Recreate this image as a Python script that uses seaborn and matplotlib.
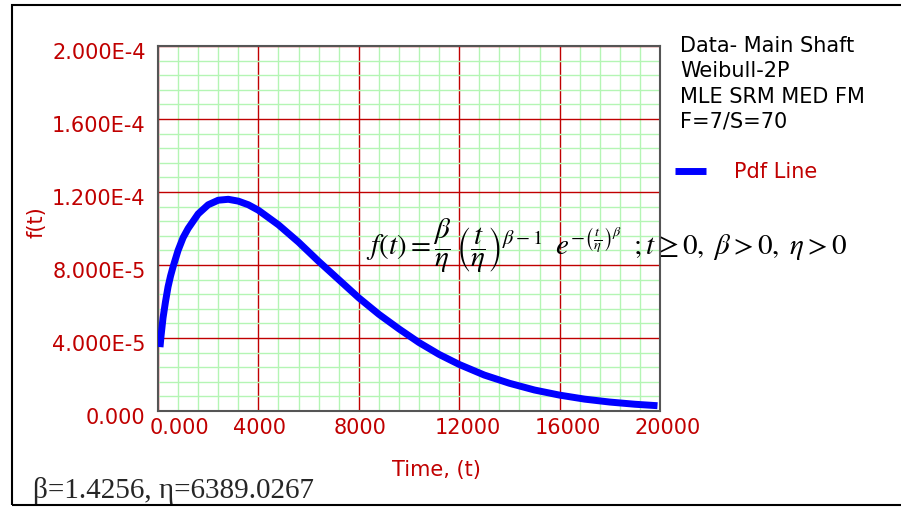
import numpy as np
import pandas as pd
import matplotlib
matplotlib.use("Agg")
import matplotlib.pyplot as plt
import matplotlib.transforms as mtransforms
from matplotlib.patches import Rectangle
from matplotlib.ticker import MultipleLocator
import seaborn as sns

# values
time_t = [80, 120, 200, 300, 400, 500, 600, 800, 1000, 1200, 1600, 2000, 2400, 2800,
          3200, 3600, 4000, 4800, 5600, 6400, 7200, 8000, 8800, 9600, 10400,
          11200, 12000, 13000, 14000, 15000, 16000, 17000, 18000, 19000, 19900]
pdf_ft = [3.5e-5, 4.1e-5, 5.1e-5, 6.0e-5, 6.8e-5, 7.4e-5, 7.9e-5, 8.8e-5, 9.5e-5, 1.00e-4,
          1.08e-4, 1.13e-4, 1.155e-4, 1.16e-4, 1.15e-4, 1.13e-4, 1.10e-4, 1.02e-4,
          9.25e-5, 8.2e-5, 7.2e-5, 6.2e-5, 5.3e-5, 4.5e-5, 3.75e-5, 3.1e-5,
          2.55e-5, 1.97e-5, 1.52e-5, 1.15e-5, 8.7e-6, 6.5e-6, 4.9e-6, 3.7e-6, 2.9e-6]

x_ticks = [0, 4000, 8000, 12000, 16000, 20000]
x_labels = ["0.000", "4000", "8000", "12000", "16000", "20000"]
y_ticks = [0, 4e-5, 8e-5, 1.2e-4, 1.6e-4, 2e-4]
y_labels = ["0.000", "4.000E-5", "8.000E-5", "1.200E-4", "1.600E-4", "2.000E-4"]
info_lines = ["Data- Main Shaft", "Weibull-2P", "MLE SRM MED FM", "F=7/S=70"]

RED = "#c00000"
W, H = 901, 508

sns.set_style("white")
plt.rcParams["font.family"] = ["DejaVu Sans"]
plt.rcParams["mathtext.fontset"] = "stix"

df = pd.DataFrame({"t": time_t, "f": pdf_ft})

fig = plt.figure(figsize=(W / 100, H / 100), dpi=100)
ax = fig.add_axes([158 / W, 1 - 411 / H, 502 / W, 365 / H])

sns.lineplot(data=df, x="t", y="f", ax=ax, color="#0000ff", lw=5,
             label="Pdf Line", zorder=5, solid_capstyle="butt",
             solid_joinstyle="round")

ax.set_xlim(0, 20000)
ax.set_ylim(0, 2e-4)
ax.xaxis.set_minor_locator(MultipleLocator(800))
ax.yaxis.set_minor_locator(MultipleLocator(8e-6))
ax.set_xticks(x_ticks)
ax.set_yticks(y_ticks)
ax.set_xticklabels(x_labels)
ax.set_yticklabels(y_labels)
ax.grid(which="minor", color="#b4f5b4", lw=1)
ax.grid(which="major", color=RED, lw=1)
ax.set_axisbelow(True)
ax.set_xlabel("")
ax.set_ylabel("")

for s in ax.spines.values():
    s.set_color("#555555")
    s.set_linewidth(1.5)

ax.tick_params(axis="both", which="major", colors=RED, labelsize=15, length=3, width=1)
ax.tick_params(axis="y", pad=6)
ax.tick_params(axis="x", pad=2)
ax.tick_params(which="minor", length=0)

# y labels sit a few pixels under their grid lines
for lab in ax.get_yticklabels():
    lab.set_transform(lab.get_transform() + mtransforms.ScaledTranslation(0, -0.05, fig.dpi_scale_trans))
# x labels start a little left of the tick
for i, lab in enumerate(ax.get_xticklabels()):
    dx = -0.08 if i == 0 else -0.25
    lab.set_horizontalalignment("left")
    lab.set_transform(lab.get_transform() + mtransforms.ScaledTranslation(dx, 0, fig.dpi_scale_trans))

leg = ax.legend(loc="center left", bbox_to_anchor=(675 / W, 1 - 172 / H),
                bbox_transform=fig.transFigure, frameon=False, fontsize=15,
                handlelength=1.5, handletextpad=1.35, borderpad=0, borderaxespad=0)
for txt in leg.get_texts():
    txt.set_color(RED)
for h in leg.legend_handles:
    h.set_solid_capstyle("butt")

for i, line in enumerate(info_lines):
    fig.text(680 / W, 1 - (52 + 25.3 * i) / H, line, fontsize=15, color="black",
             ha="left", va="baseline")

fig.text(37 / W, 1 - 222 / H, "f(t)", rotation=90, color=RED, fontsize=15,
         ha="center", va="center")
fig.text(436 / W, 1 - 470 / H, "Time, (t)", color=RED, fontsize=15,
         ha="center", va="center")

formula = (r"$f\left(t\right)=\dfrac{\beta}{\eta}\,\left(\dfrac{t}{\eta}\right)^{\beta-1}\;\;"
           r"e^{-\left(\frac{t}{\eta}\right)^{\beta}}\;\;;t\geq 0,\;\beta>0,\;\eta>0$")
fig.text(366 / W, 1 - 246 / H, formula, fontsize=21, color="black",
         ha="left", va="center")

fig.text(33 / W, 1 - 498 / H, "β=1.4256, η=6389.0267", fontsize=21,
         family=["Liberation Serif", "DejaVu Serif"], ha="left", va="baseline")

fig.add_artist(Rectangle((12 / W, 1 - 505 / H), 1.0, 500 / H, fill=False,
                         ec="black", lw=1.5, transform=fig.transFigure))

fig.savefig("out.png", dpi=100)
